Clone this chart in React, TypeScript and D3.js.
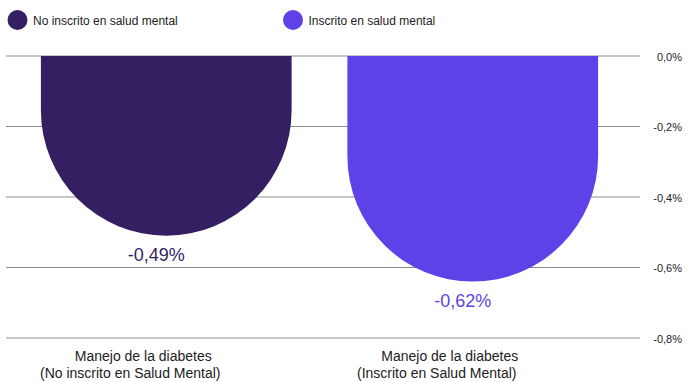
import React from "react";
import * as d3 from "d3";

const categories = ["No inscrito", "Inscrito"];
const categoryLines = [
  ["Manejo de la diabetes", "(No inscrito en Salud Mental)"],
  ["Manejo de la diabetes", "(Inscrito en Salud Mental)"],
];
const seriesNames = ["No inscrito en salud mental", "Inscrito en salud mental"];
const values = [-0.49, -0.62];
const yTicks = [0, -0.2, -0.4, -0.6, -0.8];
const colors = ["#351f63", "#5f42e7"];

const W = 693;
const H = 382;

const fmt = (v: number, d: number) =>
  (v === 0 ? 0 : v).toFixed(d).replace(".", ",") + "%";

export default function App() {
  const x = d3
    .scaleBand<string>()
    .domain(categories)
    .range([13, 626])
    .paddingInner(0.182)
    .paddingOuter(0.091);
  const y = d3.scaleLinear().domain([0, -0.8]).range([56, 338]);
  const bw = x.bandwidth();
  const r = bw / 2;
  const overshoot = 7;
  const font = "'Liberation Sans', Arial, sans-serif";

  return (
    <svg
      width={W}
      height={H}
      style={{ position: "absolute", left: 0, top: 0, display: "block" }}
      fontFamily={font}
    >
      <rect width={W} height={H} fill="#fff" />
      {/* legend */}
      {seriesNames.map((s, i) => {
        const cx = i === 0 ? 17.5 : 293;
        return (
          <g key={s}>
            <circle cx={cx} cy={20} r={10} fill={colors[i]} />
            <text x={cx + 15.5} y={25} fontSize={12} fill="#222">
              {s}
            </text>
          </g>
        );
      })}
      {/* gridlines */}
      {yTicks.map((t) => (
        <g key={t}>
          <line
            x1={6}
            x2={640}
            y1={y(t)}
            y2={y(t)}
            stroke="#8c8c8c"
            strokeWidth={1.2}
          />
          <text
            x={682}
            y={y(t) + 4.5}
            fontSize={11}
            textAnchor="end"
            fill="#222"
          >
            {fmt(t, 1)}
          </text>
        </g>
      ))}
      {/* bars */}
      {categories.map((c, i) => {
        const x0 = x(c)!;
        const x1 = x0 + bw;
        const y0 = y(0);
        const yb = y(values[i]) + overshoot;
        const path = `M${x0},${y0}L${x1},${y0}L${x1},${yb - r}A${r},${r} 0 0 1 ${x0},${yb - r}Z`;
        const cx = x0 + bw / 2;
        return (
          <g key={c}>
            <path d={path} fill={colors[i]} />
            <text
              x={cx - 10}
              y={yb + 25}
              fontSize={18}
              textAnchor="middle"
              fill={colors[i]}
            >
              {fmt(values[i], 2)}
            </text>
            <text
              x={cx - 23}
              y={360.5}
              fontSize={14}
              textAnchor="middle"
              fill="#222"
            >
              {categoryLines[i][0]}
            </text>
            <text
              x={cx - 36}
              y={377.5}
              fontSize={14}
              textAnchor="middle"
              fill="#222"
            >
              {categoryLines[i][1]}
            </text>
          </g>
        );
      })}
    </svg>
  );
}
